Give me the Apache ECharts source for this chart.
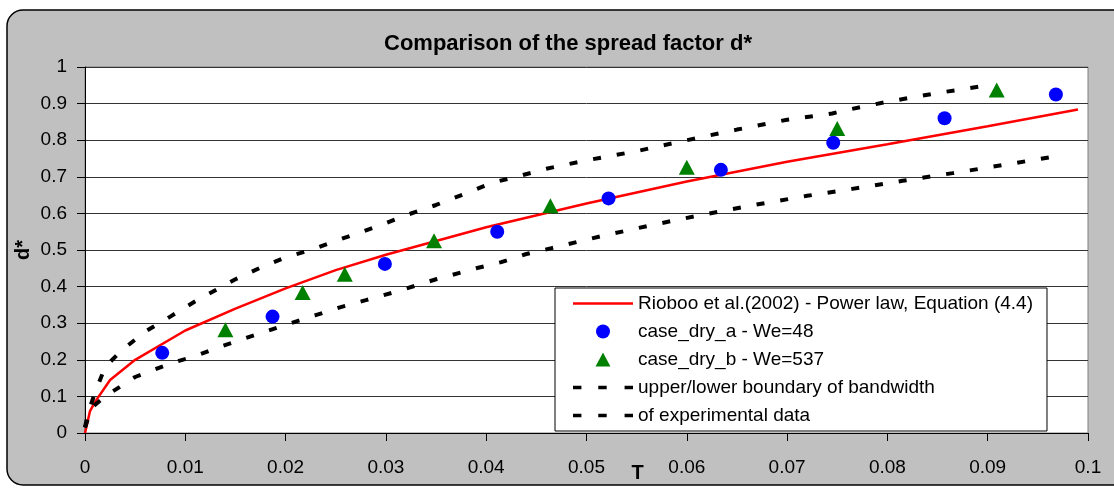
<!DOCTYPE html>
<html>
<head>
<meta charset="utf-8">
<script src="https://cdn.jsdelivr.net/npm/echarts@6/dist/echarts.min.js"></script>
<style>
  html, body { margin: 0; padding: 0; background: #fff; }
  #chart { width: 1114px; height: 488px; }
</style>
</head>
<body>
<div id="chart"></div>
<script>
// Dimensionless time T and spread factor d*
const powerLawT = [0, 0.0005, 0.001, 0.0025, 0.005, 0.01, 0.015, 0.02, 0.025, 0.03, 0.04, 0.05, 0.06, 0.07, 0.08, 0.09, 0.099];
const powerLawD = [0, 0.06, 0.085, 0.145, 0.2, 0.28, 0.34, 0.395, 0.445, 0.487, 0.562, 0.627, 0.687, 0.741, 0.789, 0.838, 0.884];

const caseAT = [0.0077, 0.0187, 0.0299, 0.0411, 0.0522, 0.0634, 0.0746, 0.0857, 0.0968];
const caseAD = [0.219, 0.318, 0.462, 0.55, 0.641, 0.719, 0.793, 0.86, 0.925];

const caseBT = [0.014, 0.0217, 0.0259, 0.0348, 0.0464, 0.06, 0.075, 0.0909];
const caseBD = [0.282, 0.384, 0.434, 0.525, 0.621, 0.726, 0.832, 0.937];

const upperT = [0, 0.0003, 0.001, 0.002, 0.0035, 0.006, 0.0085, 0.011, 0.013, 0.015, 0.0175, 0.02, 0.0225, 0.025, 0.0295, 0.032, 0.035, 0.038, 0.0405, 0.043, 0.046, 0.05, 0.055, 0.06, 0.065, 0.07, 0.0745, 0.0755, 0.08, 0.085, 0.0905];
const upperD = [0.015, 0.055, 0.11, 0.18, 0.222, 0.277, 0.318, 0.36, 0.39, 0.42, 0.452, 0.48, 0.5, 0.525, 0.568, 0.595, 0.623, 0.655, 0.683, 0.7, 0.722, 0.745, 0.77, 0.8, 0.829, 0.856, 0.873, 0.88, 0.905, 0.929, 0.952];

const lowerT = [0, 0.0007, 0.002, 0.005, 0.0085, 0.011, 0.0135, 0.016, 0.018, 0.0205, 0.023, 0.0255, 0.028, 0.031, 0.035, 0.039, 0.0415, 0.044, 0.0465, 0.0515, 0.0565, 0.0615, 0.0665, 0.072, 0.0765, 0.0815, 0.0865, 0.0915, 0.097];
const lowerD = [0.015, 0.07, 0.1, 0.153, 0.19, 0.21, 0.236, 0.259, 0.277, 0.3, 0.322, 0.344, 0.363, 0.386, 0.42, 0.45, 0.467, 0.489, 0.505, 0.538, 0.568, 0.596, 0.622, 0.648, 0.667, 0.689, 0.71, 0.732, 0.757];

const seriesNames = [
  'Rioboo et al.(2002) - Power law, Equation (4.4)',
  'case_dry_a - We=48',
  'case_dry_b - We=537',
  'upper/lower boundary of bandwidth',
  'of experimental data'
];

const pairs = (xs, ys) => xs.map((x, i) => [x, ys[i]]);
const FONT = "'Liberation Sans', Arial, sans-serif";
const dashed = { color: '#000', width: 4, type: [8, 16] };

// Legend glyphs: solid stroke, circle, triangle and a three-dash stroke
const ICON_SOLID = 'path://M0,0h60v2.5h-60z';
const ICON_TRIANGLE = 'path://M8,0L16,15L0,15Z';
const ICON_DASHED = 'path://M0,0h8v3.5h-8z M24,0h8v3.5h-8z M49,0h8v3.5h-8z';

const chart = echarts.init(document.getElementById('chart'), null, { renderer: 'canvas' });
chart.setOption({
  backgroundColor: '#fff',
  animation: false,
  textStyle: { fontFamily: FONT },
  graphic: [{
    type: 'rect',
    z: -100,
    shape: { x: 7, y: 10, width: 1125, height: 475, r: 16 },
    style: { fill: '#c0c0c0', stroke: '#000', lineWidth: 1.5 }
  }],
  title: {
    text: 'Comparison of the spread factor d*',
    left: 563,
    textAlign: 'center',
    top: 28,
    textStyle: { fontFamily: FONT, fontSize: 22, fontWeight: 'bold', color: '#000' }
  },
  grid: {
    left: 85, right: 26, top: 67, bottom: 55,
    outerBoundsMode: 'none',
    containLabel: false,
    show: true, backgroundColor: '#fff', borderColor: '#808080', borderWidth: 1
  },
  xAxis: {
    type: 'value', min: 0, max: 0.1, interval: 0.01,
    name: 'T', nameLocation: 'middle', nameGap: 30, nameMoveOverlap: false,
    nameTextStyle: { fontFamily: FONT, fontSize: 20, fontWeight: 'bold', color: '#000', padding: [0, 0, 0, 102] },
    axisLine: { show: true, onZero: false, lineStyle: { color: '#000', width: 1 } },
    axisTick: { show: true, inside: false, length: 8, lineStyle: { color: '#000' } },
    axisLabel: { fontFamily: FONT, fontSize: 19, color: '#000', margin: 25 },
    splitLine: { show: false }
  },
  yAxis: {
    type: 'value', min: 0, max: 1, interval: 0.1,
    name: 'd*', nameLocation: 'middle', nameGap: 52, nameRotate: 90, nameMoveOverlap: false,
    nameTextStyle: { fontFamily: FONT, fontSize: 20, fontWeight: 'bold', color: '#000' },
    axisLine: { show: true, onZero: false, lineStyle: { color: '#000', width: 1 } },
    axisTick: { show: true, inside: false, length: 8, lineStyle: { color: '#000' } },
    axisLabel: { fontFamily: FONT, fontSize: 19, color: '#000', margin: 18 },
    splitLine: { show: true, lineStyle: { color: '#333', width: 1 } }
  },
  legend: {
    orient: 'vertical',
    left: 555, top: 288,
    padding: [6, 14, 6, 18],
    backgroundColor: '#fff', borderColor: '#000', borderWidth: 1,
    itemWidth: 60, itemHeight: 14, itemGap: 9,
    symbolKeepAspect: true,
    textStyle: { fontFamily: FONT, fontSize: 19, color: '#000', lineHeight: 19 },
    data: [
      { name: seriesNames[0], icon: ICON_SOLID },
      { name: seriesNames[1], icon: 'circle' },
      { name: seriesNames[2], icon: ICON_TRIANGLE },
      { name: seriesNames[3], icon: ICON_DASHED },
      { name: seriesNames[4], icon: ICON_DASHED }
    ]
  },
  series: [
    {
      name: seriesNames[0], type: 'line', data: pairs(powerLawT, powerLawD),
      showSymbol: false, symbol: 'none', z: 3,
      lineStyle: { color: '#ff0000', width: 2.5 }, itemStyle: { color: '#ff0000' }
    },
    {
      name: seriesNames[1], type: 'scatter', data: pairs(caseAT, caseAD),
      symbol: 'circle', symbolSize: 14, z: 6,
      itemStyle: { color: '#0000ff', opacity: 1 }
    },
    {
      name: seriesNames[2], type: 'scatter', data: pairs(caseBT, caseBD),
      symbol: 'triangle', symbolSize: [16, 15], z: 6,
      itemStyle: { color: '#008000', opacity: 1 }
    },
    {
      name: seriesNames[3], type: 'line', data: pairs(upperT, upperD),
      showSymbol: false, symbol: 'none', z: 4,
      lineStyle: dashed, itemStyle: { color: '#000' }
    },
    {
      name: seriesNames[4], type: 'line', data: pairs(lowerT, lowerD),
      showSymbol: false, symbol: 'none', z: 4,
      lineStyle: dashed, itemStyle: { color: '#000' }
    }
  ]
});
</script>
</body>
</html>
